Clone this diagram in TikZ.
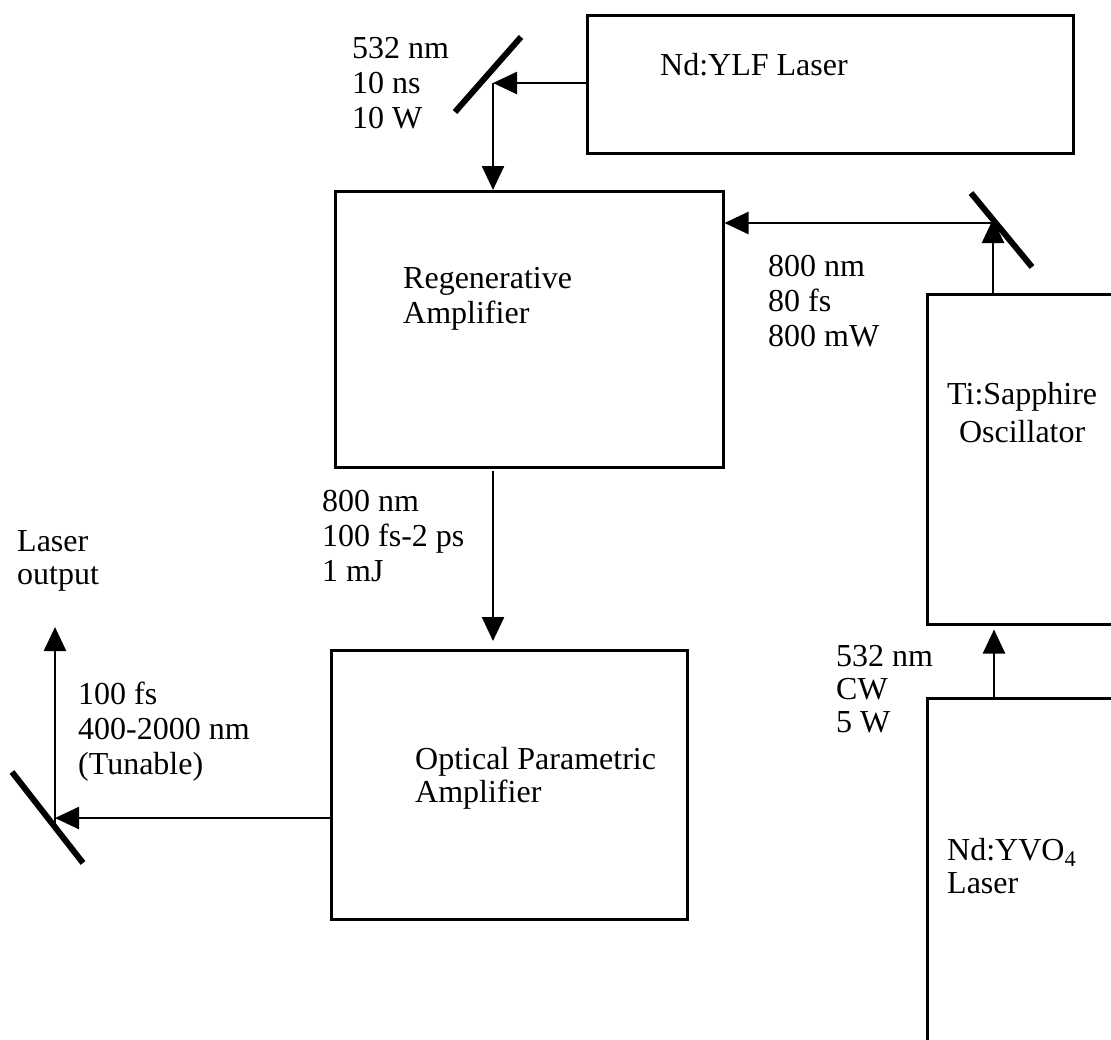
\documentclass[tikz,border=0pt]{standalone}
\usepackage{fontspec}
\setmainfont{Liberation Serif}
\usetikzlibrary{arrows.meta}
\begin{document}
\begin{tikzpicture}[x=1pt,y=-1pt,
  box/.style={draw, line width=2.5pt, rectangle, inner sep=0pt, anchor=north west},
  btxt/.style={anchor=north west, inner sep=0pt, align=left, font=\fontsize{32}{35}\selectfont},
  lbl/.style={anchor=north west, inner sep=0pt, align=left, font=\fontsize{32}{35}\selectfont},
  beam/.style={line width=2.5pt, -{Triangle[length=24pt,width=22pt]}},
  mirror/.style={line width=6pt}]
\useasboundingbox (0,0) rectangle (1111,1039);
\clip (0,0) rectangle (1111,1039);

% boxes
\node[box, minimum width=486pt, minimum height=138pt] (ylf) at (586,14) {};
\node[box, minimum width=388pt, minimum height=276pt] (regen) at (334,190) {};
\node[box, minimum width=356pt, minimum height=269pt] (opa) at (330,649) {};
\node[box, minimum width=220pt, minimum height=330pt] (ti) at (926,293) {};
\node[box, minimum width=220pt, minimum height=400pt] (yvo) at (926,697) {};

% box texts
\node[btxt] (tylf) at (660,53) {Nd:YLF Laser};
\node[btxt] (tregen) at (403,267) {Regenerative\\Amplifier};
\node[btxt, align=center, font=\fontsize{32}{38}\selectfont] (tti) at (947,382) {Ti:Sapphire\\Oscillator};
\node[btxt, font=\fontsize{32}{33}\selectfont] (topa) at (415,747) {Optical Parametric\\Amplifier};
\node[btxt, font=\fontsize{32}{33}\selectfont] (tyvo) at (947,838) {Nd:YVO\textsubscript{4}\\Laser};

% beam labels
\node[lbl] (l1) at (352,37) {532 nm\\10 ns\\10 W};
\node[lbl] (l2) at (768,255) {800 nm\\80 fs\\800 mW};
\node[lbl] (l3) at (322,490) {800 nm\\100 fs-2 ps\\1 mJ};
\node[lbl, font=\fontsize{32}{33}\selectfont] (l4) at (17,530) {Laser\\output};
\node[lbl] (l5) at (78,682) {100 fs\\400-2000 nm\\(Tunable)};
\node[lbl, font=\fontsize{32}{33}\selectfont] (l6) at (836,645) {532 nm\\CW\\5 W};

% mirrors
\coordinate (m1) at (493,83);
\coordinate (m2) at (993,223);
\coordinate (m3) at (55,818);
\draw[mirror] (455,112) -- (521,37);
\draw[mirror] (971,193) -- (1032,267);
\draw[mirror] (12,772) -- (83,863);

% beams
\draw[beam] (ylf.west |- m1) -- (m1);
\draw[beam] (m1) -- (m1 |- regen.north);
\draw[beam] (ti.north -| m2) -- ([yshift=4pt]m2);
\draw[beam] (m2) -- (m2 -| regen.east);
\coordinate (d1) at (493,471);
\draw[beam] (d1) -- ([yshift=8pt]d1 |- opa.north);
\coordinate (u1) at (994,697);
\draw[beam] (u1) -- ([yshift=-4pt]u1 |- ti.south);
\draw[beam] (opa.west |- m3) -- (m3);
\coordinate (out) at (55,627);
\draw[beam] ([yshift=-7pt]m3) -- (out);
\end{tikzpicture}
\end{document}
